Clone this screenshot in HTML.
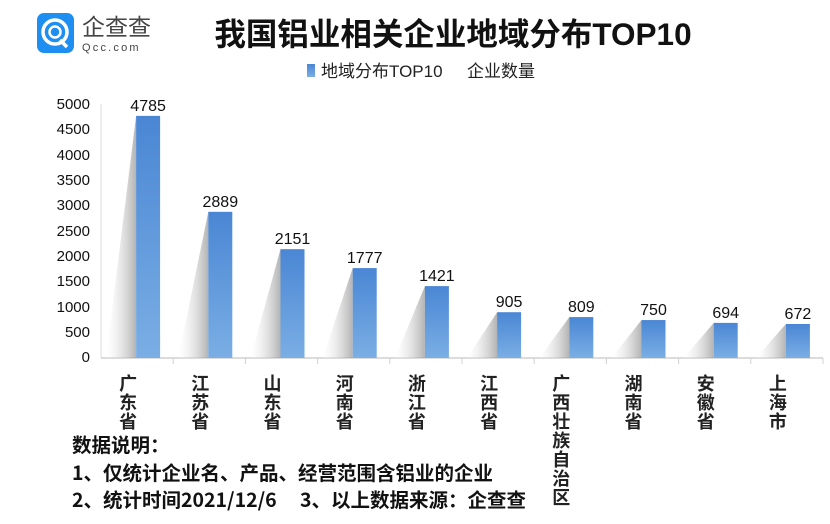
<!DOCTYPE html>
<html><head><meta charset="utf-8"><style>
body{margin:0;width:830px;height:524px;background:#fff;overflow:hidden;font-family:"Liberation Sans","Noto Sans CJK SC",sans-serif;}
</style></head><body>
<svg width="830" height="524" xmlns="http://www.w3.org/2000/svg" style="position:absolute;left:0;top:0">
<defs>
<linearGradient id="b" x1="0" y1="0" x2="0" y2="1"><stop offset="0" stop-color="#4a86d4"/><stop offset="1" stop-color="#7aaee4"/></linearGradient>
<linearGradient id="s" x1="1" y1="0" x2="0" y2="0"><stop offset="0" stop-color="#9a9a9a"/><stop offset="1" stop-color="#ffffff" stop-opacity="0.3"/></linearGradient>
</defs>
<rect x="37" y="13" width="37" height="40" rx="7" fill="#1e8ef0"/>
<circle cx="55" cy="32" r="12" fill="none" stroke="#fff" stroke-width="3.5"/>
<circle cx="55" cy="32" r="5.5" fill="none" stroke="#fff" stroke-width="2.5"/>
<line x1="60" y1="40" x2="67" y2="47" stroke="#fff" stroke-width="3.5"/>
<text x="82" y="35" font-size="23" fill="#444" font-family="Noto Sans CJK SC,sans-serif">企查查</text>
<text x="82" y="51" font-size="11" fill="#444" letter-spacing="2.2">Qcc.com</text>
<text x="453" y="45" font-size="31.5" font-weight="bold" text-anchor="middle" fill="#111" font-family="Liberation Sans,Noto Sans CJK SC,sans-serif">我国铝业相关企业地域分布TOP10</text>
<rect x="307" y="64" width="8" height="13" fill="url(#b)"/>
<text x="321" y="77" font-size="17" fill="#222">地域分布TOP10</text>
<text x="467" y="77" font-size="17" fill="#222">企业数量</text>
<g font-size="15" fill="#111" text-anchor="end">
<text x="90" y="109">5000</text><text x="90" y="134">4500</text><text x="90" y="160">4000</text><text x="90" y="185">3500</text><text x="90" y="210">3000</text><text x="90" y="236">2500</text><text x="90" y="261">2000</text><text x="90" y="286">1500</text><text x="90" y="312">1000</text><text x="90" y="337">500</text><text x="90" y="362">0</text>
</g>
<line x1="101" y1="104" x2="101" y2="358" stroke="#ddd"/>
<line x1="101" y1="358" x2="823" y2="358" stroke="#d0d0d0" stroke-width="1.5"/>
<g id="bars"></g>
<g font-size="19.5" fill="#111" font-weight="bold" font-family="Noto Sans CJK SC,sans-serif">
<text x="72" y="452">数据说明：</text>
<text x="72" y="480">1、仅统计企业名、产品、经营范围含铝业的企业</text>
<text x="72" y="507">2、统计时间2021/12/6</text>
<text x="300" y="507">3、以上数据来源：企查查</text>
</g>
</svg>
<script>
var v=[4785,2889,2151,1777,1421,905,809,750,694,672];
var n=["广东省","江苏省","山东省","河南省","浙江省","江西省","广西壮族自治区","湖南省","安徽省","上海市"];
var g=document.getElementById("bars"),h="";
for(var i=0;i<10;i++){var c=101+72.2*(i+0.5),bx=c-1,y=358-v[i]*0.0506;
h+='<polygon points="'+bx+','+y+' '+(bx-30)+',358 '+bx+',358" fill="url(#s)" opacity="0.75"/>';
h+='<rect x="'+bx+'" y="'+y+'" width="24" height="'+(358-y)+'" fill="url(#b)"/>';
h+='<text x="'+(bx+12)+'" y="'+(y-5)+'" font-size="16" text-anchor="middle" fill="#111">'+v[i]+'</text>';
h+='<line x1="'+(101+72.2*(i+1))+'" y1="358" x2="'+(101+72.2*(i+1))+'" y2="364" stroke="#d0d0d0"/>';
for(var k=0;k<n[i].length;k++)h+='<text x="'+(c-9)+'" y="'+(390+k*19)+'" font-size="18" font-weight="bold" text-anchor="middle" fill="#222" font-family="Noto Sans CJK SC,sans-serif">'+n[i][k]+'</text>';}
g.innerHTML=h;
</script>
</body></html>
